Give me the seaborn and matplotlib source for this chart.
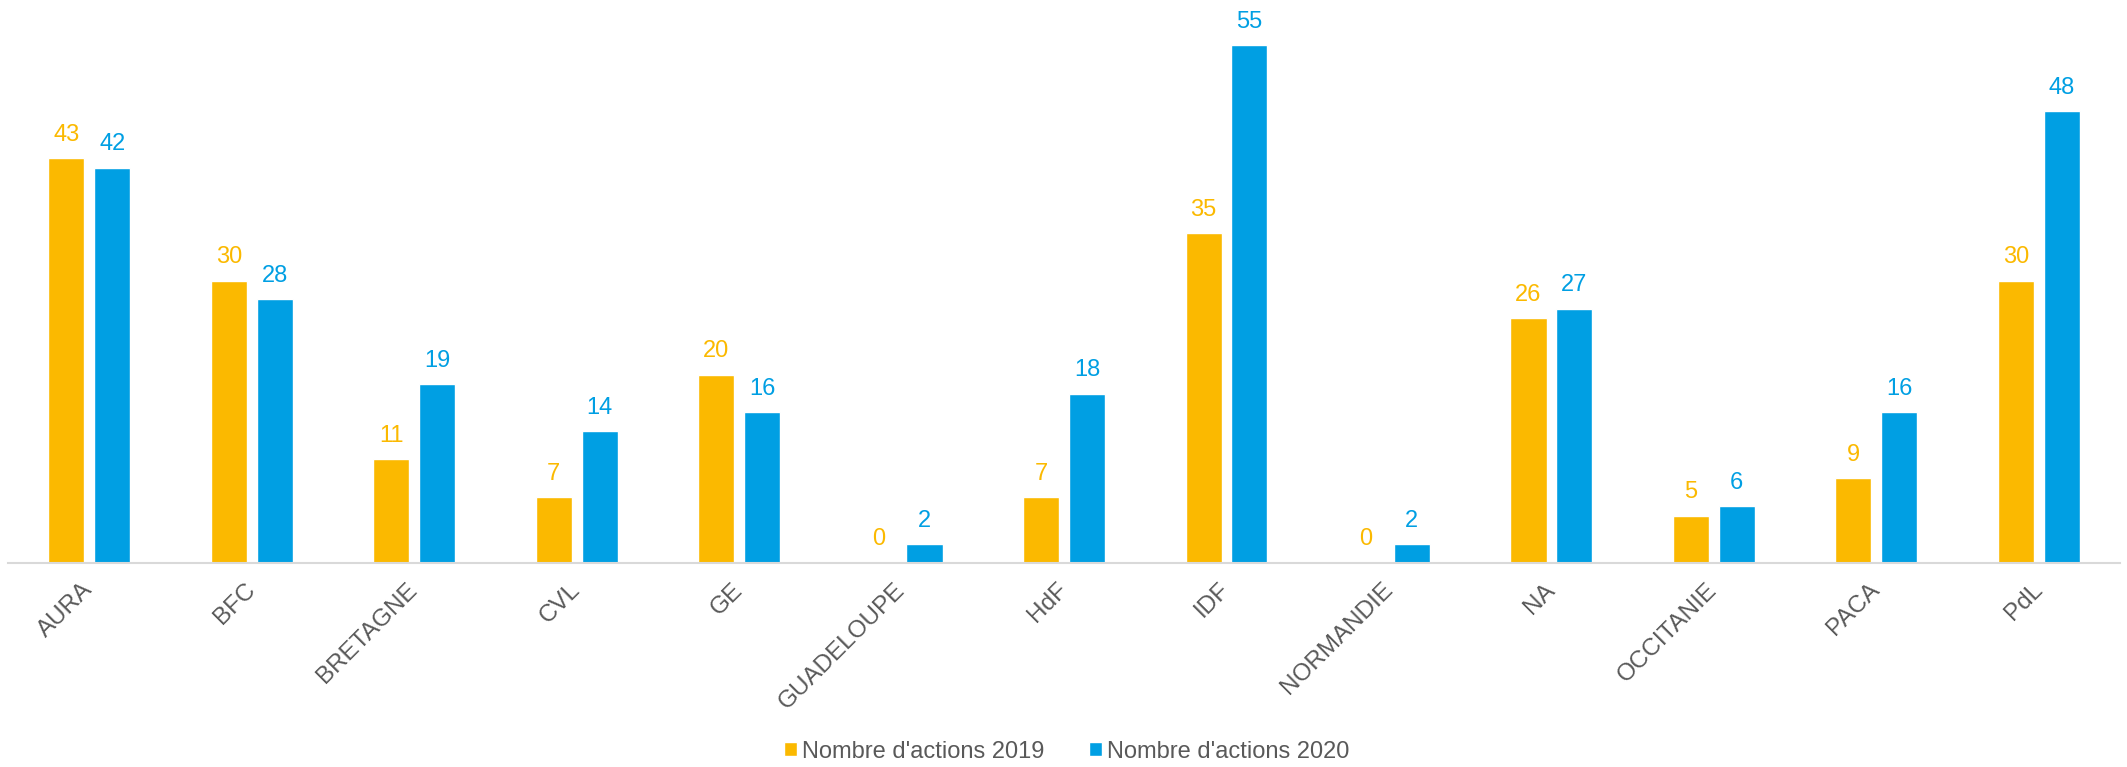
import matplotlib
matplotlib.use("Agg")
import matplotlib.pyplot as plt
import seaborn as sns
import pandas as pd

regions = ["AURA", "BFC", "BRETAGNE", "CVL", "GE", "GUADELOUPE", "HdF", "IDF",
           "NORMANDIE", "NA", "OCCITANIE", "PACA", "PdL"]
actions_2019 = [43, 30, 11, 7, 20, 0, 7, 35, 0, 26, 5, 9, 30]
actions_2020 = [42, 28, 19, 14, 16, 2, 18, 55, 2, 27, 6, 16, 48]
series_names = ["Nombre d'actions 2019", "Nombre d'actions 2020"]
colors = ["#FBB900", "#009FE3"]

df = pd.DataFrame({
    "region": regions * 2,
    "value": actions_2019 + actions_2020,
    "serie": [series_names[0]] * len(regions) + [series_names[1]] * len(regions),
})

sns.set_style("white")
plt.rcParams["font.family"] = ["Liberation Sans", "DejaVu Sans"]

fig = plt.figure(figsize=(21.27, 7.67), dpi=100)
ax = fig.add_axes([0.0038, 0.266, 0.9929, 0.734])

sns.barplot(data=df, x="region", y="value", hue="serie", order=regions,
            hue_order=series_names, palette=colors, width=0.564, gap=0.213,
            saturation=1, ax=ax, legend=True)

for cont, c in zip(ax.containers, colors):
    ax.bar_label(cont, labels=[f"{int(v)}" for v in cont.datavalues],
                 padding=9, color=c, fontsize=17)

ax.set_ylim(0, 59.8)
ax.set_xlim(-0.5, len(regions) - 0.5)
ax.set_xlabel("")
ax.set_ylabel("")
ax.set_yticks([])
for s in ["top", "left", "right"]:
    ax.spines[s].set_visible(False)
ax.spines["bottom"].set_color("#D9D9D9")
ax.spines["bottom"].set_linewidth(1.5)
ax.tick_params(axis="x", length=0, pad=17, labelsize=17.5, labelcolor="#595959")
for lab in ax.get_xticklabels():
    lab.set_rotation(45)
    lab.set_ha("right")
    lab.set_va("center")
    lab.set_rotation_mode("anchor")

leg = ax.get_legend()
handles = leg.legend_handles
leg.remove()
fig.legend(handles, series_names, loc="center", bbox_to_anchor=(0.5016, 0.02),
           ncol=2, frameon=False, fontsize=17, labelcolor="#595959",
           handlelength=0.55, handleheight=0.55, handletextpad=0.2,
           columnspacing=1.9)

fig.savefig("out.png", dpi=100)
